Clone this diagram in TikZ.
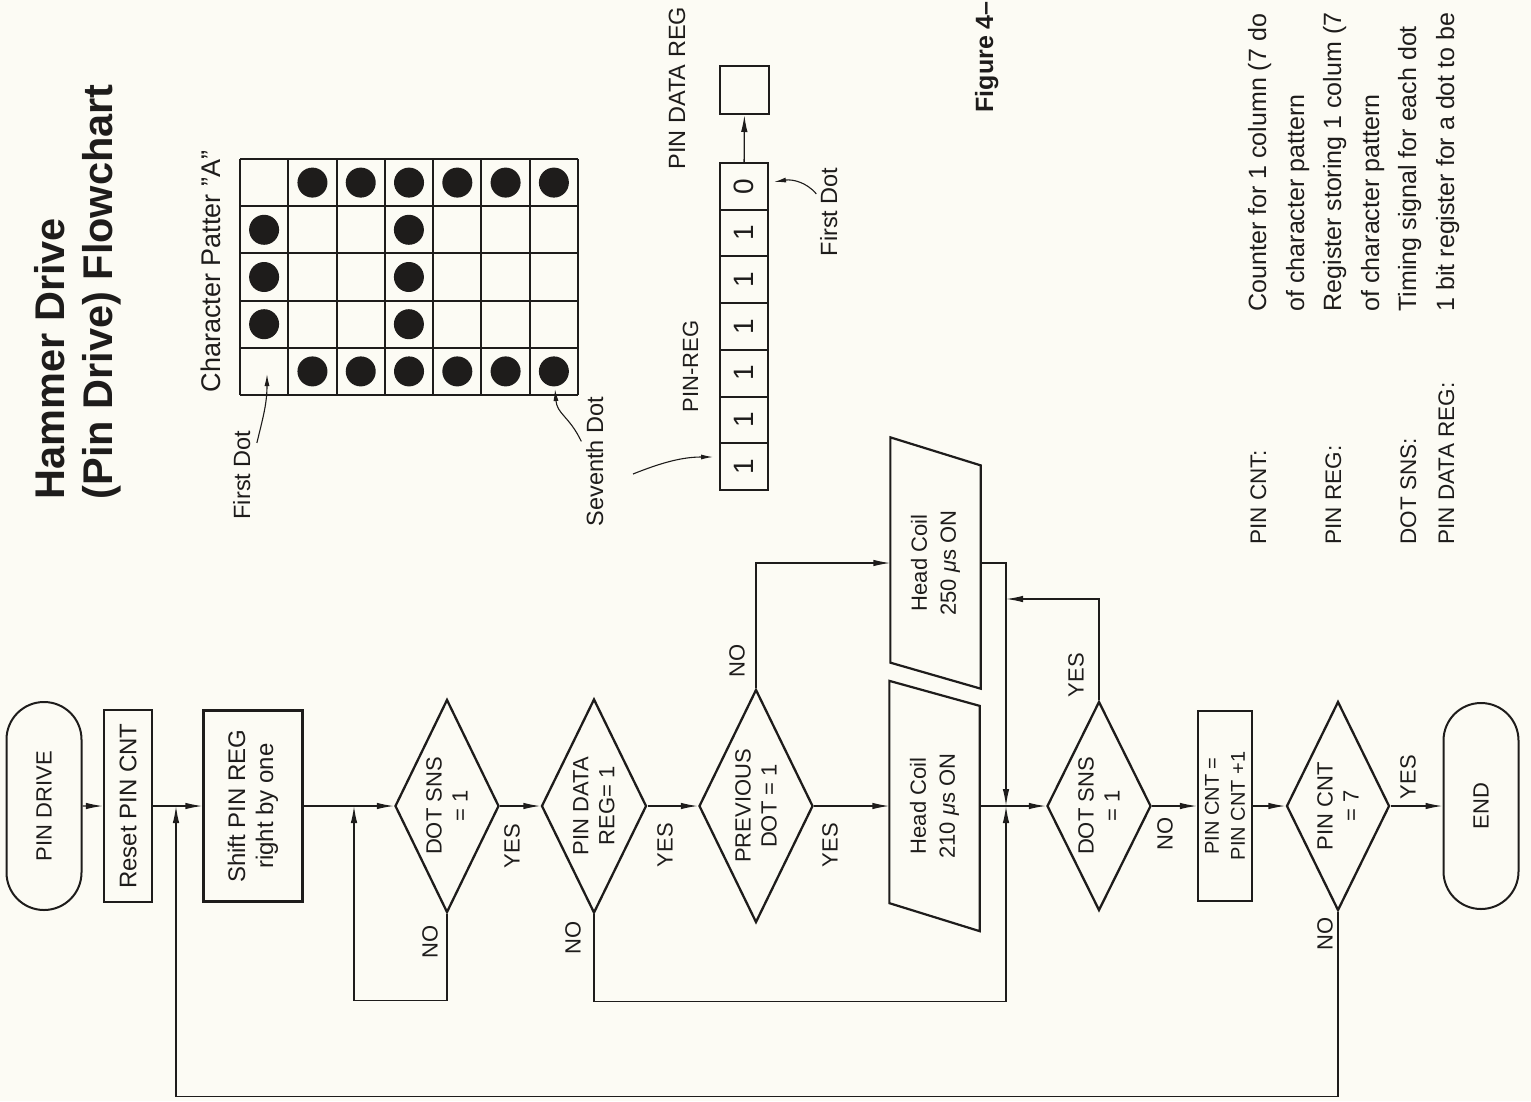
\documentclass[tikz,border=0pt]{standalone}
\usepackage{fontspec}
\setmainfont{Liberation Sans}
\usetikzlibrary{arrows.meta,shapes.geometric,shapes.misc}
\definecolor{ink}{RGB}{30,28,27}
\definecolor{paper}{RGB}{252,251,244}

\begin{document}
\begin{tikzpicture}[x=1pt, y=-1pt, color=ink, line width=1.3pt,
  >={Latex[length=17pt,width=6.5pt]},
  flow/.style={rotate=90, align=center, inner sep=1pt, font=\fontsize{22}{26}\selectfont},
  term/.style={flow, draw, line width=2pt, rounded rectangle, minimum height=75pt},
  proc/.style={flow, draw, line width=2.2pt, font=\fontsize{24}{28}\selectfont},
  test/.style={flow, draw, line width=2.3pt, diamond, aspect=2, inner sep=0pt},
  coil/.style={flow, inner sep=0pt, font=\fontsize{22}{29}\selectfont},
  yesno/.style={rotate=90, inner sep=0pt, font=\fontsize{22}{26}\selectfont},
  note/.style={rotate=90, inner sep=0pt, anchor=base west, font=\fontsize{23.5}{28}\selectfont},
  key/.style={note, font=\fontsize{22.5}{26}\selectfont},
  desc/.style={note, font=\fontsize{25}{28}\selectfont},
  ttl/.style={note, font=\fontsize{41.5}{48}\selectfont\bfseries},
  cell/.style={rotate=90, draw, line width=2pt, inner sep=0pt, font=\fontsize{28}{30}\selectfont},
  lead/.style={-{Latex[length=12pt,width=5pt]}, line width=1.1pt},
  coilline/.style={line width=2.2pt, line join=miter}]
\fill[paper] (0,0) rectangle (1531,1101);
\useasboundingbox (0,0) rectangle (1531,1101);

\node[ttl] (ttl1) at (64,500) {Hammer Drive};
\node[ttl] (ttl2) at (112,500) {(Pin Drive) Flowchart};

\node[note, font=\fontsize{27}{30}\selectfont] (chr) at (220,393) {Character Patter ”A”};
\foreach \i in {0,...,7}
  \draw[line width=2pt] (240+48.29*\i,159) -- (240+48.29*\i,395);
\foreach \j in {0,...,5}
  \draw[line width=2pt] (240,159+47.2*\j) -- (578,159+47.2*\j);
\foreach \col in {2,...,7} {
  \fill (215.86+48.29*\col,182.6) circle[radius=15pt];
  \fill (215.86+48.29*\col,371.4) circle[radius=15pt];
}
\foreach \row in {2,3,4} {
  \fill (264.1,135.4+47.2*\row) circle[radius=15pt];
  \fill (408.9,135.4+47.2*\row) circle[radius=15pt];
}
\node[note] (fdg) at (250,520) {First Dot};
\node[note] (svn) at (603,527) {Seventh Dot};
\coordinate (dot1) at (267,374);
\coordinate (dot7) at (555,389);
\draw[lead] ([xshift=6pt,yshift=-13pt]fdg.south east) .. controls +(6,-25) and +(0,30) .. (dot1);
\draw[lead] ([xshift=-4pt,yshift=-45pt]svn.north east) .. controls +(-12,-25) and +(2,25) .. (dot7);

\node[note] (pdrl) at (685,170) {PIN DATA REG};
\node[cell, minimum width=48pt, minimum height=49pt] (pdreg) at (744.5,90) {};
\node[note, font=\fontsize{22}{26}\selectfont] (prl) at (698,413) {PIN-REG};
\foreach \v [count=\i] in {0,1,1,1,1,1,1}
  \node[cell, minimum width=46.7pt, minimum height=48pt] (reg\i) at (744,139.65+46.7*\i) {\v};
\draw[->] (reg1) -- (pdreg);
\coordinate (pinfrom) at (633,474);
\coordinate (pinto) at (713,457);
\draw[lead] (pinfrom) .. controls +(30,-12) and +(-30,0) .. (pinto);
\node[note] (fdr) at (837,257) {First Dot};
\coordinate (dotr) at (774,182);
\draw[lead] ([xshift=-3pt,yshift=-27pt]fdr.north east) .. controls +(-10,-12) and +(18,-3) .. (dotr);

\node[note, font=\fontsize{25}{28}\selectfont\bfseries] (fig) at (993,113) {Figure 4–};

\node[key] (kcnt) at (1266,545) {PIN CNT:};
\node[key] (kreg) at (1341,545) {PIN REG:};
\node[key] (ksns) at (1416,545) {DOT SNS:};
\node[key] (kdat) at (1454,545) {PIN DATA REG:};
\node[desc] (dcnt) at (1266,312) {Counter for 1 column (7 do};
\node[desc] (dcnt2) at (1304,312) {of character pattern};
\node[desc] (dreg) at (1341,312) {Register storing 1 colum (7};
\node[desc] (dreg2) at (1379,312) {of character pattern};
\node[desc] (dsns) at (1416,312) {Timing signal for each dot};
\node[desc] (ddat) at (1454,312) {1 bit register for a dot to be};

\node[term, minimum width=210pt] (pindrive) at (44,806) {PIN DRIVE};
\node[proc, minimum width=192pt, minimum height=48pt] (reset) at (128,806) {Reset PIN CNT};
\node[proc, minimum width=191pt, minimum height=99pt] (shift) at (253,806) {Shift PIN REG\\right by one};
\node[test, minimum width=213pt, minimum height=104pt] (sns1) at (447,806) {DOT SNS\\= 1};
\node[test, minimum width=214pt, minimum height=105pt] (pdata) at (594,806) {PIN DATA\\REG= 1};
\node[test, minimum width=233pt, minimum height=114pt] (prev) at (756,806) {PREVIOUS\\DOT = 1};
\node[coil, minimum width=249pt, minimum height=89pt] (hc210) at (934.5,806) {Head Coil\\210 \textit{μ}s ON};
\node[coil, minimum width=250pt, minimum height=89pt] (hc250) at (935.5,563) {Head Coil\\250 \textit{μ}s ON};
\node[test, minimum width=209pt, minimum height=104pt] (sns2) at (1099,806) {DOT SNS\\= 1};
\node[proc, font=\fontsize{20}{26}\selectfont, minimum width=190pt, minimum height=54pt] (cntinc) at (1225,806) {PIN CNT =\\PIN CNT +1};
\node[test, minimum width=209pt, minimum height=103pt] (cnt7) at (1338,806) {PIN CNT\\= 7};
\node[term, minimum width=208pt] (endnode) at (1481,806) {END};

\draw[coilline] (hc250.north east) -- ([yshift=-28pt]hc250.south east) -- (hc250.south west) -- ([yshift=26pt]hc250.north west) -- cycle;
\draw[coilline] (hc210.north east) -- ([yshift=-25pt]hc210.south east) -- (hc210.south west) -- ([yshift=28pt]hc210.north west) -- cycle;

\coordinate (jA) at (176,806);
\coordinate (jB) at (354,806);
\coordinate (jC) at (1006,806);
\coordinate (jD) at (1006,599);

\draw[->] (pindrive) -- (reset);
\draw[->] (reset) -- (shift);
\draw[->] (shift) -- (sns1);
\draw[->] (sns1) -- (pdata);
\draw[->] (pdata) -- (prev);
\draw[->] (prev) -- (hc210);
\draw[->] (hc210) -- (sns2);
\draw[->] (sns2) -- (cntinc);
\draw[->] (cntinc) -- (cnt7);
\draw[->] (cnt7) -- (endnode);
\draw[->] (sns1.west) -- ++(0,87) -| (jB);
\draw[->] (pdata.west) -- ++(0,87) -| (jC);
\draw[->] (prev.east) |- (hc250.north);
\draw[->] (hc250.south) -| (jC);
\draw[->] (sns2.east) |- (jD);
\draw[->] (cnt7.west) -- ++(0,185) -| (jA);

\node[yesno] (no1) at (430,942) {NO};
\node[yesno] (yes1) at (512,846) {YES};
\node[yesno] (no2) at (573,938) {NO};
\node[yesno] (yes2) at (665,845) {YES};
\node[yesno] (no3) at (737,661) {NO};
\node[yesno] (yes3) at (830,845) {YES};
\node[yesno] (yes4) at (1076,675) {YES};
\node[yesno] (no4) at (1165,834) {NO};
\node[yesno] (yes5) at (1408,777) {YES};
\node[yesno] (no5) at (1325,934) {NO};
\end{tikzpicture}
\end{document}
